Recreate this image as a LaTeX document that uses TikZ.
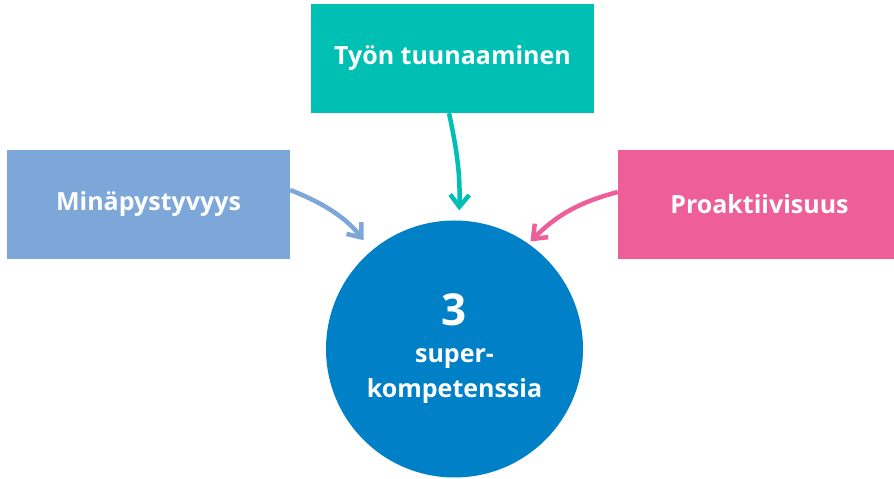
\documentclass[tikz,border=0pt]{standalone}
\usepackage{fontspec}
\setmainfont{Open Sans}
\usetikzlibrary{arrows.meta}
\definecolor{minablue}{HTML}{7DA7D9}
\definecolor{tyonteal}{HTML}{00BFB3}
\definecolor{proapink}{HTML}{EE5F9A}
\definecolor{superblue}{HTML}{0080C6}
\begin{document}
\begin{tikzpicture}[x=1pt,y=1pt]
		\tikzstyle{every node}+=[inner sep=0pt, text=white, font=\bfseries\fontsize{25}{35}\selectfont]
		\tikzstyle{kbox}=[rectangle, minimum width=283, minimum height=109]
		\tikzstyle{karrow}=[line width=4.5pt, -{Straight Barb[length=12pt,width=19pt]}]
		\clip (0,0) rectangle (894,479);
		\node [kbox, fill=minablue] (mina) at (148.5,274.5) {Minäpystyvyys};
		\node [kbox, fill=tyonteal] (tyon) at (452.5,420.5) {Työn tuunaaminen};
		\node [kbox, fill=proapink] (proa) at (759.5,274.5) {Proaktiivisuus};
		\node [circle, fill=superblue, minimum size=257, align=center] (super) at (454.5,130)
			{{\fontsize{44}{44}\selectfont 3}\\[2pt]super-\\kompetenssia};
		\draw [karrow, minablue, shorten >=13pt] ([yshift=14.5pt]mina.east) to [bend left=15] (super.130);
		\draw [karrow, tyonteal, shorten >=10pt] ([xshift=-3.5pt]tyon.south) to [bend left=7] (super.88);
		\draw [karrow, proapink, shorten >=3pt] ([yshift=12.5pt]proa.west) to [bend right=15] (super.55);
	\end{tikzpicture}
\end{document}
